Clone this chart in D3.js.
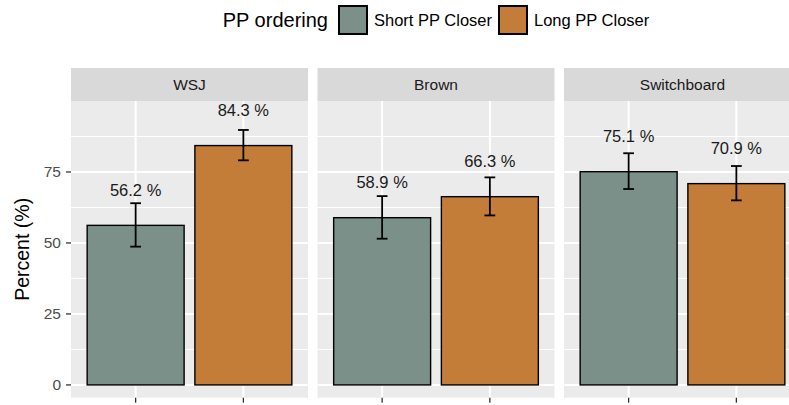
<!DOCTYPE html>
<html lang="en">
<head>
  <meta charset="UTF-8">
  <title>PP ordering by corpus</title>
  <script src="https://d3js.org/d3.v7.min.js"></script>
  <style>
    body {
      margin: 0;
      padding: 0;
      background: #fff;
      overflow: hidden;
    }
    svg text {
      font-family: "Liberation Sans", Arial, Helvetica, sans-serif;
    }
    .tick-label {
      font-size: 15.5px;
      fill: #4d4d4d;
    }
    .strip-label {
      font-size: 15.5px;
      fill: #1a1a1a;
    }
    .bar-label {
      font-size: 16.5px;
      fill: #1a1a1a;
    }
    .legend-title {
      font-size: 20px;
      fill: #000;
    }
    .legend-text {
      font-size: 16.5px;
      fill: #000;
    }
    .axis-title {
      font-size: 19.5px;
      fill: #000;
    }
  </style>
</head>
<body>
  <script>
    // data
    const corpora = ["WSJ", "Brown", "Switchboard"];
    const orderings = ["Short PP Closer", "Long PP Closer"];

    const shortPercent = [56.2, 58.9, 75.1];
    const shortLower = [48.7, 51.5, 69.0];
    const shortUpper = [64.0, 66.5, 81.6];

    const longPercent = [84.3, 66.3, 70.9];
    const longLower = [79.1, 59.7, 65.0];
    const longUpper = [89.8, 73.1, 77.1];

    const yTicks = [0, 25, 50, 75];
    const yMinor = [12.5, 37.5, 62.5, 87.5];

    const colours = { "Short PP Closer": "#7a9088", "Long PP Closer": "#c47d38" };

    const width = 789, height = 405;
    const panelTop = 101, panelBottom = 397.7;
    const stripTop = 68;
    const labelOffset = 12.5; // value units above bar for the text label

    const rows = [];
    corpora.forEach((c, i) => {
      rows.push({ corpus: c, ordering: orderings[0], value: shortPercent[i], lo: shortLower[i], hi: shortUpper[i] });
      rows.push({ corpus: c, ordering: orderings[1], value: longPercent[i], lo: longLower[i], hi: longUpper[i] });
    });

    const svg = d3.select("body").append("svg")
      .attr("width", width)
      .attr("height", height);

    const fx = d3.scaleBand()
      .domain(corpora)
      .range([71, 801])
      .paddingInner(0.0385)
      .paddingOuter(0);

    const x = d3.scalePoint()
      .domain(orderings)
      .range([0, fx.bandwidth()])
      .padding(0.6);

    const step = x.step();

    const y = d3.scaleLinear()
      .domain([-4.5, 100])
      .range([panelBottom, panelTop]);

    const panels = svg.selectAll("g.panel")
      .data(corpora)
      .join("g")
      .attr("class", "panel")
      .attr("transform", d => `translate(${fx(d)},0)`);

    // strip
    panels.append("rect")
      .attr("x", 0)
      .attr("y", stripTop)
      .attr("width", fx.bandwidth())
      .attr("height", panelTop - stripTop)
      .attr("fill", "#d9d9d9");

    panels.append("text")
      .attr("class", "strip-label")
      .attr("x", fx.bandwidth() / 2)
      .attr("y", (stripTop + panelTop) / 2)
      .attr("dy", "0.35em")
      .attr("text-anchor", "middle")
      .text(d => d);

    // panel background
    panels.append("rect")
      .attr("x", 0)
      .attr("y", panelTop)
      .attr("width", fx.bandwidth())
      .attr("height", panelBottom - panelTop)
      .attr("fill", "#ebebeb");

    // grid
    panels.selectAll("line.minor")
      .data(yMinor)
      .join("line")
      .attr("x1", 0)
      .attr("x2", fx.bandwidth())
      .attr("y1", d => y(d))
      .attr("y2", d => y(d))
      .attr("stroke", "#fff")
      .attr("stroke-width", 1);

    panels.selectAll("line.major")
      .data(yTicks)
      .join("line")
      .attr("x1", 0)
      .attr("x2", fx.bandwidth())
      .attr("y1", d => y(d))
      .attr("y2", d => y(d))
      .attr("stroke", "#fff")
      .attr("stroke-width", 2);

    panels.selectAll("line.vgrid")
      .data(orderings)
      .join("line")
      .attr("x1", d => x(d))
      .attr("x2", d => x(d))
      .attr("y1", panelTop)
      .attr("y2", panelBottom)
      .attr("stroke", "#fff")
      .attr("stroke-width", 2);

    // bottom ticks
    panels.selectAll("line.xtick")
      .data(orderings)
      .join("line")
      .attr("x1", d => x(d))
      .attr("x2", d => x(d))
      .attr("y1", panelBottom)
      .attr("y2", panelBottom + 5)
      .attr("stroke", "#333")
      .attr("stroke-width", 1.3);

    // bars, error bars, labels
    panels.each(function (corpus) {
      const g = d3.select(this);
      const data = rows.filter(r => r.corpus === corpus);
      const bw = step * 0.9;
      const cap = step * 0.1;

      g.selectAll("rect.bar")
        .data(data)
        .join("rect")
        .attr("class", "bar")
        .attr("x", d => x(d.ordering) - bw / 2)
        .attr("y", d => y(d.value))
        .attr("width", bw)
        .attr("height", d => y(0) - y(d.value))
        .attr("fill", d => colours[d.ordering])
        .attr("stroke", "#000")
        .attr("stroke-width", 1.4);

      const eb = g.selectAll("g.err")
        .data(data)
        .join("g")
        .attr("stroke", "#000")
        .attr("stroke-width", 1.8);

      eb.append("line")
        .attr("x1", d => x(d.ordering))
        .attr("x2", d => x(d.ordering))
        .attr("y1", d => y(d.lo))
        .attr("y2", d => y(d.hi));
      eb.append("line")
        .attr("x1", d => x(d.ordering) - cap / 2)
        .attr("x2", d => x(d.ordering) + cap / 2)
        .attr("y1", d => y(d.lo))
        .attr("y2", d => y(d.lo));
      eb.append("line")
        .attr("x1", d => x(d.ordering) - cap / 2)
        .attr("x2", d => x(d.ordering) + cap / 2)
        .attr("y1", d => y(d.hi))
        .attr("y2", d => y(d.hi));

      g.selectAll("text.bar-label")
        .data(data)
        .join("text")
        .attr("class", "bar-label")
        .attr("x", d => x(d.ordering))
        .attr("y", d => y(d.value + labelOffset))
        .attr("dy", "0.35em")
        .attr("text-anchor", "middle")
        .text(d => `${d.value.toFixed(1)} %`);
    });

    // y axis
    const yAxis = svg.append("g");
    yAxis.selectAll("line")
      .data(yTicks)
      .join("line")
      .attr("x1", 66)
      .attr("x2", 71)
      .attr("y1", d => y(d))
      .attr("y2", d => y(d))
      .attr("stroke", "#333")
      .attr("stroke-width", 1.3);
    yAxis.selectAll("text")
      .data(yTicks)
      .join("text")
      .attr("class", "tick-label")
      .attr("x", 61)
      .attr("y", d => y(d))
      .attr("dy", "0.35em")
      .attr("text-anchor", "end")
      .text(d => d);

    svg.append("text")
      .attr("class", "axis-title")
      .attr("transform", `translate(29,${(panelTop + panelBottom) / 2}) rotate(-90)`)
      .attr("text-anchor", "middle")
      .text("Percent (%)");

    // legend on top, centred over the panels
    const legend = svg.append("g");
    const title = legend.append("text")
      .attr("class", "legend-title")
      .attr("y", 20)
      .attr("dy", "0.35em")
      .text("PP ordering");
    let cursor = title.node().getComputedTextLength() + 10;
    orderings.forEach(o => {
      legend.append("rect")
        .attr("x", cursor + 1)
        .attr("y", 6)
        .attr("width", 28)
        .attr("height", 28)
        .attr("fill", colours[o])
        .attr("stroke", "#000")
        .attr("stroke-width", 2);
      cursor += 30 + 6;
      const t = legend.append("text")
        .attr("class", "legend-text")
        .attr("x", cursor)
        .attr("y", 20)
        .attr("dy", "0.35em")
        .text(o);
      cursor += t.node().getComputedTextLength() + 6;
    });
    const legendWidth = cursor - 6;
    legend.attr("transform", `translate(${436 - legendWidth / 2},0)`);
  </script>
</body>
</html>
